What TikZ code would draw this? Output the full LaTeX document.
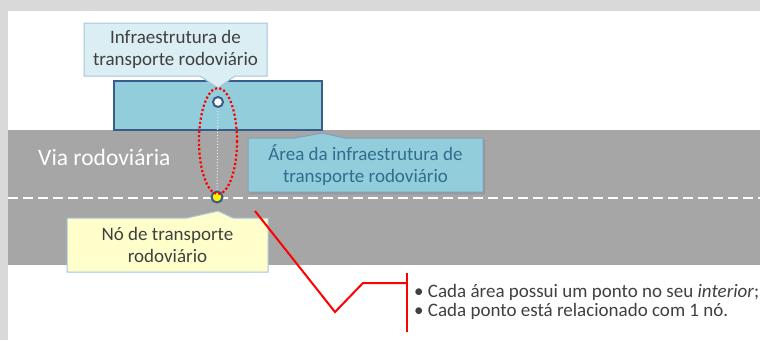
\documentclass[tikz,border=0pt]{standalone}
\usepackage{fontspec}
\setmainfont{Carlito}
\usetikzlibrary{shapes.geometric,shadows}
\definecolor{frame}{HTML}{D9D9D9}
\definecolor{road}{HTML}{A6A6A6}
\definecolor{infra}{HTML}{92CDDC}
\definecolor{infraedge}{HTML}{385D8A}
\definecolor{calloutblue}{HTML}{DAEEF3}
\definecolor{calloutedge}{HTML}{A5C4DE}
\definecolor{calloutyellow}{HTML}{FFFFCC}
\definecolor{txt}{HTML}{404040}
\definecolor{areatxt}{HTML}{2E6E8E}
\tikzset{
  lbl/.style={text=txt, font=\fontsize{19}{22}\selectfont, align=center, inner sep=0pt},
  pointmark/.style={circle, draw=infraedge, line width=2pt, minimum size=10pt, inner sep=0pt},
  redline/.style={draw=red, line width=2pt},
}
\begin{document}
\begin{tikzpicture}[x=1pt,y=-1pt]
\useasboundingbox (0,0) rectangle (760,340);
% frame
\fill[frame] (0,0) rectangle (760,340);
\fill[white] (8,11) rectangle (760,340);
% road
\fill[road] (8,130) rectangle (760,265);
\draw[white, line width=1.2pt, dash pattern=on 10pt off 5pt] (8,198) -- (760,198);
\node[text=white, font=\fontsize{23.5}{26}\selectfont, anchor=west, inner sep=0pt] (via) at (38,157) {Via rodoviária};
% infrastructure rectangle
\node[draw=infraedge, fill=infra, line width=2pt, minimum width=208pt, minimum height=49pt, inner sep=0pt] (infra) at (218,105.5) {};
% top callout
\draw[calloutedge, fill=calloutblue, line width=1pt] (84,23) -- (267,23) -- (267,76) -- (235,76) -- (218,88) -- (200,76) -- (84,76) -- cycle;
\node[lbl] (infralbl) at (175.5,49.5) {Infraestrutura de\\transporte rodoviário};
% area callout
\draw[infraedge!60, fill=infra, line width=1pt, drop shadow={shadow xshift=2pt, shadow yshift=-2pt, opacity=0.4}] (248,138) -- (295,138) -- (322,133) -- (345,138) -- (483,138) -- (483,192) -- (248,192) -- cycle;
\node[lbl, text=areatxt] (arealbl) at (365.5,165) {Área da infraestrutura de\\transporte rodoviário};
% node callout
\draw[calloutedge, fill=calloutyellow, line width=1pt] (67,218) -- (187,218) -- (218,211) -- (233,218) -- (268,218) -- (268,272) -- (67,272) -- cycle;
\node[lbl] (nodelbl) at (167.5,245) {Nó de transporte\\rodoviário};
% points
\node[pointmark, fill=white] (pt) at (218,102) {};
\node[pointmark, fill=yellow, minimum size=11pt] (nd) at (217,197) {};
\draw[white!85!gray, line width=1pt, dotted] (pt) -- (nd);
% red dotted ellipse
\draw[red, line width=2.2pt, dash pattern=on 2.2pt off 2.2pt] (218,141) ellipse [x radius=19, y radius=53];
% red bracket
\coordinate (r0) at (255,211);
\coordinate (r1) at (335,312);
\coordinate (r2) at (363,283);
\coordinate (r3) at (407,283);
\coordinate (bt) at (407,273);
\coordinate (bb) at (407,332);
\draw[redline] (r0) -- (r1) -- (r2) -- (r3);
\draw[redline] (bt) -- (bb);
% bullets
\node[text=txt, font=\fontsize{19}{19}\selectfont, align=left, anchor=west, inner sep=0pt] (bullets) at (414,302) {\textbullet\ Cada área possui um ponto no seu \textit{interior};\\\textbullet\ Cada ponto está relacionado com 1 nó.};
\end{tikzpicture}
\end{document}
